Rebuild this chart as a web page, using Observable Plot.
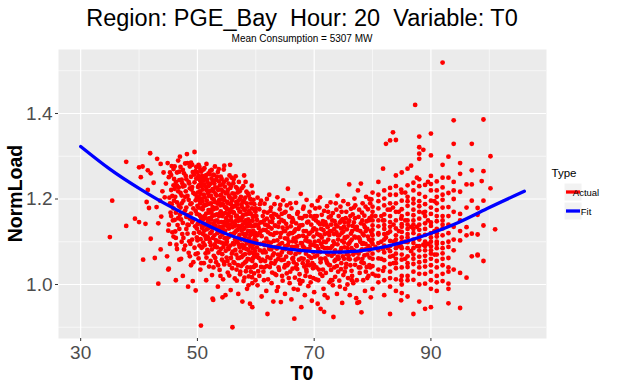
<!DOCTYPE html>
<html>
<head>
<meta charset="utf-8">
<script src="https://cdn.jsdelivr.net/npm/d3@7"></script>
<script src="https://cdn.jsdelivr.net/npm/@observablehq/plot@0.6"></script>
<style>
  html, body { margin: 0; padding: 0; background: #fff; }
  #chart { width: 624px; height: 386px; }
</style>
</head>
<body>
<div id="chart"></div>
<script>
// ---- Titles / labels ----
const titleText = "Region: PGE_Bay  Hour: 20  Variable: T0";
const subtitleText = "Mean Consumption = 5307 MW";
const xLabel = "T0";
const yLabel = "NormLoad";
const legendTitle = "Type";
const legendLabels = ["Actual", "Fit"];

// ---- Ticks ----
const xTicks = [30, 50, 70, 90];
const xMinor = [40, 60, 80, 100];
const yTicks = [1.0, 1.2, 1.4];
const yMinor = [0.9, 1.1, 1.3, 1.5];

// ---- Fit curve ----
const fitT0   = [30, 35, 40, 45, 50, 55, 60, 65, 70, 75, 80, 85, 90, 95, 100, 106];
const fitLoad = [1.323, 1.270, 1.225, 1.185, 1.150, 1.118, 1.097, 1.084, 1.077, 1.076, 1.083, 1.098, 1.120, 1.147, 1.180, 1.218];

// ---- Actual points: flat [T0, NormLoad] pairs ----
const band35 = [
  35.0,1.111, 35.4,1.196, 37.8,1.287, 37.8,1.137, 39.3,1.154, 40.7,1.058, 41.9,1.307, 43.3,1.002,
  42.0,1.107, 45.0,1.035, 42.7,1.062, 43.7,1.082, 40.0,1.274, 40.6,1.276, 40.3,1.251, 41.5,1.267,
  42.0,1.260, 43.1,1.294, 43.7,1.282, 41.5,1.221, 41.3,1.193, 41.7,1.179, 43.0,1.181, 43.6,1.196,
  43.8,1.159, 43.3,1.143, 41.1,1.142, 40.0,1.146, 44.9,1.284, 44.6,1.236, 44.4,1.204, 45.0,1.126,
  44.8,1.066, 44.2,1.262, 42.5,1.238, 44.0,1.218
];
const band45 = [
  45.3,1.262, 45.5,1.221, 45.6,1.188, 45.8,1.150, 45.9,1.112, 46.0,1.247, 46.1,1.276, 46.2,1.205,
  46.3,1.168, 46.4,1.093, 46.5,1.231, 46.6,1.139, 46.7,1.290, 46.8,1.184, 46.9,1.058, 47.0,1.299,
  47.1,1.214, 47.2,1.152, 47.3,1.245, 47.4,1.118, 47.5,1.268, 47.6,1.196, 47.7,1.082, 47.8,1.231,
  47.9,1.173, 48.0,1.254, 48.1,1.130, 48.2,1.305, 48.3,1.207, 48.4,1.162, 48.5,1.240, 48.6,1.101,
  48.7,1.276, 48.8,1.188, 48.9,1.045, 49.0,1.222, 49.1,1.146, 49.2,1.263, 49.3,1.178, 49.4,1.120,
  49.5,1.310, 49.6,1.211, 49.7,1.071, 49.8,1.248, 49.9,1.165, 46.3,1.010, 47.5,1.020, 48.4,0.995,
  49.2,1.008, 45.4,1.168, 46.0,1.196, 46.8,1.227, 47.3,1.190, 48.0,1.218, 48.6,1.236, 49.0,1.190,
  49.4,1.257, 49.7,1.197, 46.5,1.262, 47.9,1.283, 48.9,1.285, 45.9,1.232, 47.0,1.163, 48.3,1.140,
  49.6,1.136, 46.2,1.124, 47.6,1.109, 48.8,1.095, 49.9,1.110, 47.2,1.060, 48.5,1.074, 49.3,1.052,
  46.9,1.264, 48.1,1.180, 49.8,1.275, 45.6,1.277, 45.2,1.203, 47.4,1.237, 48.7,1.154, 49.1,1.228,
  49.7,0.986, 45.1,1.037
];
// ---- Actual points grouped as [T0, [NormLoad...]] ----
const core45 = [
  [45.1,[1.140,1.251]], [45.3,[1.095,1.190]], [45.5,[1.256,1.160]], [45.7,[1.207,1.122]], [45.9,[1.178,1.270]],
  [46.1,[1.151,1.224]], [46.3,[1.240,1.109]], [46.5,[1.192,1.083]], [46.7,[1.218,1.155]], [46.9,[1.130,1.244]],
  [47.1,[1.275,1.180]], [47.3,[1.100,1.208]], [47.5,[1.144,1.229]], [47.7,[1.260,1.168]], [47.9,[1.091,1.205]],
  [48.1,[1.246,1.158]], [48.3,[1.284,1.119]], [48.5,[1.198,1.139]], [48.7,[1.225,1.066]], [48.9,[1.166,1.252]],
  [49.1,[1.105,1.280]], [49.3,[1.214,1.151]], [49.5,[1.239,1.086]], [49.7,[1.172,1.265]], [49.9,[1.203,1.131]]
];
const band50 = [
  [50.0,[1.262,1.184,1.103]], [50.1,[1.228,1.142]], [50.2,[1.205,1.061,1.280]], [50.3,[1.247,1.163]],
  [50.4,[1.121,1.218]], [50.5,[1.190,1.035,1.268]], [50.6,[0.904,1.151,1.236]], [50.7,[1.086,1.201]],
  [50.8,[1.254,1.132]], [50.9,[1.176,1.222]], [51.0,[1.098,1.243,1.158]], [51.1,[1.210,1.050]],
  [51.2,[1.272,1.138]], [51.3,[1.187,1.114]], [51.4,[1.229,1.073]], [51.5,[1.256,1.166,1.010]],
  [51.6,[1.197,1.129]], [51.7,[1.081,1.240]], [51.8,[1.214,1.147]], [51.9,[1.174,1.260]],
  [52.0,[1.106,1.232,1.042]], [52.1,[1.189,1.155]], [52.2,[1.266,1.120]], [52.3,[1.208,1.092]],
  [52.4,[1.248,1.168]], [52.5,[1.134,1.022]], [52.6,[1.223,1.181,0.967]], [52.7,[0.964,1.143,1.257]],
  [52.8,[1.199,1.067]], [52.9,[1.236,1.115]], [53.0,[1.162,1.276,1.088]], [53.1,[1.212,1.138]],
  [53.2,[1.052,1.245]], [53.3,[1.178,1.101]], [53.4,[1.226,1.150]], [53.5,[1.263,1.122,0.995]],
  [53.6,[1.194,1.074]], [53.7,[1.241,1.160]], [53.8,[1.134,1.034]], [53.9,[1.208,1.111]],
  [54.0,[1.171,1.252,1.083]], [54.1,[1.146,1.222]], [54.2,[1.058,1.189]], [54.3,[1.117,1.234,0.970]],
  [54.4,[1.165,1.012]], [54.5,[1.203,1.096,1.269]], [54.6,[1.138,1.047,1.278]], [54.7,[1.181,1.229]],
  [54.8,[1.108,0.975]], [54.9,[1.155,1.214]]
];
const core50 = [
  [50.05,[1.215,1.142,1.073]], [50.15,[1.254,1.180]], [50.25,[1.123,1.232]], [50.35,[1.196,1.091,1.275]],
  [50.45,[1.160,1.243]], [50.55,[1.106,1.212]], [50.65,[1.178,1.264,1.050]], [50.75,[1.137,1.229]],
  [50.85,[1.195,1.088]], [50.95,[1.250,1.151,1.118]], [51.05,[1.183,1.269]], [51.15,[1.126,1.234]],
  [51.25,[1.204,1.092,1.160]], [51.35,[1.250,1.141]], [51.45,[1.107,1.186]], [51.55,[1.221,1.063,1.282]],
  [51.65,[1.154,1.245]], [51.75,[1.188,1.112]], [51.85,[1.132,1.230,1.075]], [51.95,[1.207,1.168]],
  [52.05,[1.258,1.143]], [52.15,[1.099,1.219,1.174]], [52.25,[1.236,1.055]], [52.35,[1.152,1.190]],
  [52.45,[1.124,1.268,1.082]], [52.55,[1.201,1.160]], [52.65,[1.243,1.109]], [52.75,[1.176,1.218,1.040]],
  [52.85,[1.136,1.256]], [52.95,[1.193,1.094]], [53.05,[1.227,1.149,1.062]], [53.15,[1.179,1.104]],
  [53.25,[1.208,1.131]], [53.35,[1.252,1.087,1.164]], [53.45,[1.189,1.120]], [53.55,[1.221,1.045]],
  [53.65,[1.145,1.270,1.100]], [53.75,[1.198,1.076]], [53.85,[1.166,1.232]], [53.95,[1.124,1.185,1.020]],
  [54.05,[1.210,1.098]], [54.15,[1.247,1.135]], [54.25,[1.160,1.071,1.199]], [54.35,[1.129,1.218]],
  [54.45,[1.186,1.088]], [54.55,[1.146,1.240,1.052]], [54.65,[1.108,1.197]], [54.75,[1.167,1.126]],
  [54.85,[1.214,1.079,1.144]], [54.95,[1.095,1.180]]
];
const band55 = [
  [55.0,[1.245,1.142,1.063]], [55.1,[1.193,1.108]], [55.2,[1.221,1.028]], [55.3,[1.162,1.087]],
  [55.4,[1.207,1.131]], [55.5,[1.255,1.046]], [55.6,[1.280,1.175]], [55.7,[1.118,0.987]],
  [55.8,[1.150,1.231]], [55.9,[1.072,1.196]], [56.0,[0.900,1.134,1.213]], [56.1,[1.097,1.169]],
  [56.2,[1.246,1.052]], [56.3,[1.183,1.120]], [56.4,[1.142,1.014]], [56.5,[1.205,1.081]],
  [56.6,[1.160,1.228]], [56.7,[1.103,1.035]], [56.8,[1.188,1.127]], [56.9,[1.062,1.215]],
  [57.0,[1.149,0.978]], [57.1,[1.240,1.093]], [57.2,[1.171,1.116]], [57.3,[1.024,1.200]],
  [57.4,[1.136,1.077]], [57.5,[1.187,1.043]], [57.6,[1.106,1.225]], [57.7,[1.158,0.960]],
  [57.8,[1.068,1.192]], [57.9,[1.129,1.008]], [58.0,[1.255,1.176,1.090]], [58.1,[1.145,1.051]],
  [58.2,[1.203,1.112]], [58.3,[1.031,1.164]], [58.4,[1.083,1.217]], [58.5,[1.136,0.990]],
  [58.6,[1.182,1.060]], [58.7,[1.101,1.152]], [58.8,[1.019,1.208]], [58.9,[1.125,1.073]],
  [59.0,[1.167,0.955]], [59.1,[1.040,1.139]], [59.2,[1.094,1.190]], [59.3,[1.231,1.118]],
  [59.4,[1.055,1.003,0.947]], [59.5,[1.158,1.085]], [59.6,[1.123,1.198]], [59.7,[1.070,1.026]],
  [59.8,[1.173,1.107]], [59.9,[1.046,1.140]]
];
const core55 = [
  [55.05,[1.176,1.100]], [55.15,[1.214,1.136,1.055]], [55.25,[1.149,1.190]], [55.35,[1.083,1.236]],
  [55.45,[1.168,1.112,1.021]], [55.55,[1.203,1.140]], [55.65,[1.091,1.226]], [55.75,[1.158,1.062,1.188]],
  [55.85,[1.117,1.250]], [55.95,[1.180,1.038]], [56.05,[1.145,1.201,1.077]], [56.15,[1.118,1.237]],
  [56.25,[1.168,1.094]], [56.35,[1.050,1.212,1.137]], [56.45,[1.184,1.106]], [56.55,[1.124,1.253]],
  [56.65,[1.070,1.193,1.150]], [56.75,[1.161,1.009]], [56.85,[1.099,1.224]], [56.95,[1.137,1.178,1.045]],
  [57.05,[1.196,1.110]], [57.15,[1.062,1.155]], [57.25,[1.133,1.087,1.218]], [57.35,[1.170,1.030]],
  [57.45,[1.105,1.205]], [57.55,[1.150,1.126,1.064]], [57.65,[1.181,1.093]], [57.75,[1.047,1.140]],
  [57.85,[1.118,1.230,1.163]], [57.95,[1.085,1.197]], [58.05,[1.132,1.016]], [58.15,[1.174,1.103,1.071]],
  [58.25,[1.150,1.240]], [58.35,[1.118,1.054]], [58.45,[1.190,1.096,1.142]], [58.55,[1.040,1.165]],
  [58.65,[1.125,1.213]], [58.75,[1.081,1.137,0.998]], [58.85,[1.172,1.108]], [58.95,[1.059,1.148]],
  [59.05,[1.116,1.200,1.090]], [59.15,[1.165,1.030]], [59.25,[1.136,1.075]], [59.35,[1.101,1.178,1.017]],
  [59.45,[1.149,1.215]], [59.55,[1.062,1.126]], [59.65,[1.095,1.160,1.041]], [59.75,[1.137,1.188]],
  [59.85,[1.078,1.115]], [59.95,[1.170,1.010]]
];
const band60 = [
  [60.0,[1.120,1.044,1.178]], [60.2,[1.087,1.151]], [60.3,[0.998,1.203]], [60.5,[1.132,1.062]],
  [60.6,[1.176,1.020]], [60.8,[1.095,1.145]], [60.9,[1.196,1.041]], [61.0,[1.113,0.972]],
  [61.2,[1.160,1.075]], [61.3,[1.030,1.128]], [61.5,[1.189,1.092]], [61.6,[1.055,1.140]],
  [61.8,[1.107,0.985]], [62.0,[0.931,1.168,1.064]], [62.1,[1.122,1.012]], [62.3,[1.083,1.210]],
  [62.4,[1.147,1.041]], [62.6,[1.098,1.180]], [62.7,[1.003,1.131]], [62.9,[1.068,1.155]],
  [63.0,[1.116,0.960]], [63.2,[1.188,1.049]], [63.3,[1.087,1.138]], [63.5,[1.022,1.163]],
  [63.7,[1.204,1.103]], [63.8,[1.070,0.994]], [64.0,[1.145,1.034]], [64.1,[1.094,1.176]],
  [64.3,[0.959,1.120]], [64.4,[1.057,1.151]], [64.6,[1.133,1.009]], [64.7,[1.082,1.197]],
  [64.9,[1.168,1.040]], [65.0,[1.108,0.978]], [65.2,[1.065,1.142]], [65.3,[1.185,1.026]],
  [65.5,[1.224,1.092]], [65.6,[1.117,1.050]], [65.8,[1.003,1.158]], [66.0,[1.074,1.136]],
  [66.1,[1.178,0.965]], [66.3,[1.101,1.037]], [66.4,[1.150,1.062]], [66.6,[0.920,1.124]],
  [66.7,[1.016,1.088]], [66.9,[1.191,1.143]], [67.0,[1.047,1.110]], [67.2,[1.169,0.988]],
  [67.3,[1.080,1.130]], [67.5,[1.024,1.156]], [67.7,[1.212,1.097]], [67.8,[1.061,0.947]],
  [68.0,[1.139,1.008]], [68.1,[1.114,1.177]], [68.3,[1.042,1.086]], [68.4,[1.160,0.975]],
  [68.6,[1.072,1.125]], [68.7,[1.198,1.030]], [68.9,[1.101,1.054]], [69.0,[1.147,0.996]],
  [69.2,[1.084,1.170]], [69.3,[1.018,1.121]], [69.5,[1.062,1.140]], [69.6,[1.185,0.962]],
  [69.8,[1.093,1.038]], [69.9,[1.154,1.112]]
];
const core60 = [
  [60.1,[1.102,1.160,1.065]], [60.4,[1.137,1.031]], [60.7,[1.080,1.188,1.121]], [61.1,[1.146,1.058]],
  [61.4,[1.098,1.170,1.010]], [61.7,[1.127,1.075]], [61.9,[1.154,1.043,1.200]], [62.2,[1.090,1.135]],
  [62.5,[1.061,1.118,1.172]], [62.8,[1.028,1.146]], [63.1,[1.102,1.073,1.165]], [63.4,[1.137,1.055]],
  [63.6,[1.084,1.121,0.985]], [63.9,[1.158,1.040]], [64.2,[1.068,1.111,1.186]], [64.5,[1.097,1.020]],
  [64.8,[1.125,1.058,1.148]], [65.1,[1.083,1.170]], [65.4,[1.045,1.133,1.107]], [65.7,[1.075,1.160]],
  [65.9,[1.120,1.030,1.190]], [66.2,[1.088,1.146]], [66.5,[1.052,1.108,0.990]], [66.8,[1.129,1.071]],
  [67.1,[1.090,1.165,1.036]], [67.4,[1.113,1.058]], [67.6,[1.138,1.080,1.002]], [67.9,[1.097,1.155]],
  [68.2,[1.060,1.125,1.182]], [68.5,[1.103,1.020]], [68.8,[1.082,1.145,1.045]], [69.1,[1.118,1.066]],
  [69.4,[1.092,1.160,1.005]], [69.7,[1.125,1.050]]
];
const band70 = [
  [70.0,[1.131,1.045,0.982]], [70.2,[1.178,1.090]], [70.3,[1.012,1.150]], [70.5,[1.068,1.118]],
  [70.6,[1.196,0.955]], [70.8,[1.102,1.035]], [71.0,[1.204,1.141,1.076]], [71.1,[0.943,1.052]],
  [71.3,[1.163,1.110]], [71.4,[1.020,1.088]], [71.6,[1.127,0.990]], [71.7,[0.936,1.172]],
  [71.9,[1.061,1.146]], [72.0,[1.099,1.027]], [72.2,[1.183,1.073]], [72.3,[1.134,0.969]],
  [72.5,[1.046,1.157]], [72.6,[1.116,1.005]], [72.8,[1.085,1.192]], [72.9,[1.140,1.034]],
  [73.0,[1.067,1.125]], [73.2,[0.998,1.167]], [73.3,[0.924,1.101]], [73.5,[1.148,1.055]],
  [73.6,[1.080,1.018]], [73.8,[1.175,1.122]], [73.9,[1.043,0.978]], [74.0,[1.208,1.094,1.136]],
  [74.2,[1.060,1.160]], [74.3,[1.115,1.009]], [74.5,[1.182,1.078]], [74.6,[1.036,1.131]],
  [74.8,[1.102,0.957]], [74.9,[1.153,1.066]], [75.0,[1.124,1.022,1.195]], [75.2,[1.087,1.145]],
  [75.3,[0.990,1.108]], [75.5,[1.170,1.048]], [75.6,[1.129,1.071]], [75.8,[1.015,1.188]],
  [76.0,[1.234,1.096,1.150]], [76.1,[1.059,0.975]], [76.3,[1.119,1.177]], [76.4,[1.032,1.085]],
  [76.6,[1.164,1.137]], [76.7,[1.003,1.070]], [76.9,[1.112,1.201]], [77.0,[1.046,1.155]],
  [77.2,[1.092,0.968]], [77.4,[0.957,1.128]], [77.5,[1.220,1.061]], [77.7,[0.959,1.175]],
  [77.8,[1.106,1.027]], [78.0,[1.236,1.143,1.079]], [78.1,[0.935,1.052]], [78.3,[1.119,1.190]],
  [78.4,[1.010,1.097]], [78.6,[1.161,1.068]], [78.7,[1.134,0.985]], [78.9,[1.083,1.205]],
  [79.0,[1.041,1.148]], [79.2,[1.112,1.176]], [79.3,[1.020,1.090]], [79.5,[1.155,1.063]],
  [79.7,[0.970,1.125]], [79.8,[1.199,1.100]]
];
const core70 = [
  [70.1,[1.100,1.065,1.160]], [70.4,[1.128,1.040]], [70.7,[1.083,1.145,1.010]], [70.9,[1.116,1.180]],
  [71.2,[1.060,1.095,1.130]], [71.5,[1.148,1.035]], [71.8,[1.085,1.118,0.975]], [72.1,[1.140,1.055]],
  [72.4,[1.070,1.105,1.170]], [72.7,[1.125,1.045]], [73.1,[1.090,1.150,1.010]], [73.4,[1.118,1.072]],
  [73.7,[1.058,1.140,1.190]], [74.1,[1.105,1.030]], [74.4,[1.075,1.145,0.995]], [74.7,[1.120,1.170]],
  [75.1,[1.060,1.098,1.135]], [75.4,[1.155,1.040]], [75.7,[1.085,1.112,1.000]], [75.9,[1.138,1.068]],
  [76.2,[1.101,1.160,1.045]], [76.5,[1.125,1.020]], [76.8,[1.080,1.145,1.180]], [77.1,[1.110,1.058]],
  [77.3,[1.135,1.090,1.010]], [77.6,[1.158,1.072]], [77.9,[1.100,1.125,1.040]], [78.2,[1.168,1.082]],
  [78.5,[1.115,1.050,1.140]], [78.8,[1.095,1.182]], [79.1,[1.130,1.070,1.015]], [79.4,[1.105,1.150]],
  [79.6,[1.085,1.190,1.040]], [79.9,[1.118,1.160]]
];
const extra60 = [
  [60.25,[1.070,1.115,1.140]], [60.85,[1.055,1.125]], [61.45,[1.080,1.150,1.040]], [62.05,[1.100,1.138]],
  [62.65,[1.050,1.082,1.160]], [63.25,[1.120,1.025]], [63.85,[1.090,1.135,1.060]], [64.45,[1.075,1.165]],
  [65.05,[1.045,1.125,1.090]], [65.65,[1.100,1.015]], [66.25,[1.060,1.120,1.155]], [66.85,[1.040,1.100]],
  [67.45,[1.075,1.135,1.010]], [68.05,[1.090,1.050]], [68.65,[1.110,1.160,1.035]], [69.25,[1.045,1.100]],
  [69.85,[1.075,1.130,1.015]], [70.45,[1.090,1.160]], [71.05,[1.025,1.115,1.060]], [71.65,[1.100,1.140]],
  [72.25,[1.050,1.085,1.120]], [72.85,[1.010,1.160]], [73.45,[1.095,1.130,1.040]], [74.05,[1.065,1.115]],
  [74.65,[1.085,1.050,1.150]], [75.25,[1.110,1.030]], [75.85,[1.060,1.095,1.145]], [76.45,[1.105,1.010]],
  [77.05,[1.075,1.130,1.185]], [77.65,[1.040,1.110]], [78.25,[1.060,1.095,1.150]], [78.85,[1.030,1.125]],
  [79.45,[1.080,1.200,1.045]]
];
const band80 = [
  [80.0,[1.182,1.105,1.043,1.150,0.990,1.072,1.128,1.215]], [80.5,[1.088,1.160,1.021]],
  [81.0,[1.240,1.136,1.061,1.097,1.005,1.178,1.117]], [81.8,[1.271,1.150,1.083,1.032]],
  [82.0,[1.201,1.118,1.057,0.975,1.164,1.091,1.139]], [82.3,[1.329,1.110]],
  [83.0,[1.337,1.226,1.146,1.078,1.015,0.931,1.190,1.102,1.124,1.048]], [83.5,[1.356,1.180,1.067]],
  [84.0,[1.338,1.255,1.170,1.096,1.038,0.985,1.131,1.210,1.072,1.115]], [84.9,[0.963,1.154,1.089,1.222,1.010]],
  [85.0,[1.196,1.123,1.058,1.141,1.262,1.000,1.085,1.176]],
  [86.0,[1.271,1.205,1.150,1.099,1.041,0.972,1.118,1.184,1.066,1.232]], [86.6,[1.278,1.135,1.078]],
  [87.0,[1.190,1.120,1.048,0.931,1.162,1.097,1.011,1.238,1.140,1.070]], [87.3,[1.420]],
  [88.0,[1.346,1.321,1.306,1.294,1.246,1.183,1.128,1.080,1.025,0.960,1.154,1.105,1.212,1.052]],
  [88.7,[1.315,1.168,1.093]], [89.0,[0.943,1.233,1.143,1.067,1.002,1.188,1.116,1.042]],
  [90.0,[1.353,1.302,1.254,1.196,1.137,1.089,1.030,0.947,1.165,1.110,1.220,1.060,0.990]]
];
const core80 = [
  [80.0,[1.095,1.138,1.060,1.170]], [81.0,[1.080,1.150,1.120,1.035,1.195]], [82.0,[1.075,1.130,1.105,1.040,1.185,1.220]],
  [83.0,[1.090,1.160,1.065,1.135,0.995,1.210]], [84.0,[1.085,1.150,1.105,1.060,1.190,1.012]],
  [85.0,[1.100,1.160,1.070,1.135,1.040,1.215,0.980]], [86.0,[1.110,1.165,1.085,1.130,1.020,1.195,1.050]],
  [87.0,[1.105,1.150,1.085,1.130,1.200,1.030,1.175]], [88.0,[1.115,1.140,1.090,1.170,1.065,1.195,1.000]],
  [89.0,[1.100,1.130,1.160,1.080,1.205,1.025,1.055]], [90.0,[1.120,1.145,1.080,1.180,1.045,1.100,1.010]],
  [91.0,[1.095,1.160,1.120,1.040,1.190,1.005]], [92.0,[1.085,1.140,1.180,1.060,1.025,1.210]],
  [81.5,[1.100,1.160,1.060]], [82.6,[1.120,1.085,1.175]], [83.6,[1.140,1.100,1.050]], [84.5,[1.125,1.090,1.170]],
  [85.6,[1.150,1.100,1.060,1.215]], [87.6,[1.135,1.090,1.250]], [89.5,[1.150,1.095,1.240]], [90.6,[1.125,1.070,1.195]]
];
const extra80 = [
  [80.0,[1.115,1.025]], [81.0,[1.020,1.210]], [82.0,[1.150,1.010]], [83.0,[1.175,1.030]], [84.0,[1.230,1.050]],
  [85.0,[1.110,1.020]], [86.0,[1.140,1.010]], [87.0,[1.220,1.060]], [88.0,[1.230,1.040]], [89.0,[1.170,1.090]],
  [90.0,[1.235,1.072]], [91.0,[1.100,1.220]], [92.0,[1.150,1.250]], [93.0,[1.100,1.040]]
];
const band90 = [
  [91.0,[1.241,1.174,1.112,1.055,0.985,1.148,1.085,1.205,1.020,1.130,1.070]],
  [92.0,[1.519,1.280,1.198,1.131,1.073,1.008,1.160,1.097,1.227,1.045,1.115]],
  [93.0,[1.299,1.250,1.214,1.181,1.140,1.120,1.062,1.030,1.002,0.990,0.956,1.160,1.088]],
  [93.9,[1.384,1.329,1.240,1.220,1.170,1.105,1.035,1.200,1.135,1.080]],
  [95.0,[1.284,1.259,1.217,1.165,1.150,1.103,1.027,0.945,1.125]],
  [96.1,[1.234,1.134,1.115,1.016,1.180]], [97.0,[1.329,1.267,1.234,1.196,1.119,1.066]],
  [98.0,[1.179,1.163,1.117,1.068,1.070]], [98.7,[1.242]], [99.0,[1.386,1.265,1.196,1.138,1.055]],
  [100.2,[1.300,1.225]], [101.0,[1.129]]
];

// ---- Build tables ----
const actual = [];
for (const flat of [band35, band45]) {
  for (let i = 0; i < flat.length; i += 2) actual.push({T0: flat[i], NormLoad: flat[i + 1]});
}
for (const grouped of [core45, band50, core50, band55, core55, band60, core60, extra60,
                       band70, core70, band80, core80, extra80, band90]) {
  for (const [t, loads] of grouped) for (const v of loads) actual.push({T0: t, NormLoad: v});
}
const fit = fitT0.map((t, i) => ({T0: t, NormLoad: fitLoad[i]}));

const FONT = "'Liberation Sans', Arial, sans-serif";
const W = 624, H = 386;
const mL = 58, mR = 78, mT = 49, mB = 48;

const chart = Plot.plot({
  width: W, height: H,
  marginLeft: mL, marginRight: mR, marginTop: mT, marginBottom: mB,
  style: {background: "#ffffff", fontFamily: FONT, overflow: "visible"},
  x: {domain: [26.2, 109.8], label: null},
  y: {domain: [0.8737, 1.5497], label: null},
  marks: [
    Plot.frame({fill: "#EBEBEB", stroke: null}),
    Plot.gridX(xMinor, {stroke: "#ffffff", strokeOpacity: 1, strokeWidth: 0.6}),
    Plot.gridY(yMinor, {stroke: "#ffffff", strokeOpacity: 1, strokeWidth: 0.6}),
    Plot.gridX(xTicks, {stroke: "#ffffff", strokeOpacity: 1, strokeWidth: 1.2}),
    Plot.gridY(yTicks, {stroke: "#ffffff", strokeOpacity: 1, strokeWidth: 1.2}),
    Plot.dot(actual, {x: "T0", y: "NormLoad", r: 2.4, fill: "#FF0000", stroke: null}),
    Plot.line(fit, {x: "T0", y: "NormLoad", stroke: "#0000FF", strokeWidth: 3.3, curve: "natural"}),
    Plot.axisX(xTicks, {tickSize: 3, tickPadding: 4, fontSize: 19, stroke: "#333333", color: "#4D4D4D", label: null, tickFormat: d => String(d)}),
    Plot.axisY(yTicks, {tickSize: 3, tickPadding: 3, fontSize: 19, stroke: "#333333", color: "#4D4D4D", label: null, tickFormat: d => d.toFixed(1)})
  ]
});

document.getElementById("chart").appendChild(chart);

// ---- Text + legend (layout only) ----
const svg = d3.select(chart);
const cx = mL + (W - mL - mR) / 2;
svg.append("text").attr("x", cx).attr("y", 26).attr("text-anchor", "middle")
  .attr("font-family", FONT).attr("font-size", 23.5).attr("fill", "#000").text(titleText);
svg.append("text").attr("x", cx).attr("y", 42).attr("text-anchor", "middle")
  .attr("font-family", FONT).attr("font-size", 10).attr("fill", "#000").text(subtitleText);
svg.append("text").attr("x", cx).attr("y", 380).attr("text-anchor", "middle")
  .attr("font-family", FONT).attr("font-size", 19.5).attr("font-weight", "bold").attr("fill", "#000").text(xLabel);
svg.append("text").attr("transform", `translate(22,${mT + (H - mT - mB) / 2}) rotate(-90)`).attr("text-anchor", "middle")
  .attr("font-family", FONT).attr("font-size", 19.5).attr("font-weight", "bold").attr("fill", "#000").text(yLabel);

const legend = svg.append("g");
legend.append("text").attr("x", 564).attr("y", 177).attr("font-family", FONT).attr("font-size", 11.5)
  .attr("fill", "#000").text(legendTitle);
const legendColors = ["#FF0000", "#0000FF"];
legendLabels.forEach((lab, i) => {
  const yy = 192 + i * 19;
  legend.append("rect").attr("x", 564).attr("y", yy - 9).attr("width", 18).attr("height", 18)
    .attr("fill", "#F2F2F2").attr("stroke", "#ffffff");
  legend.append("line").attr("x1", 566).attr("x2", 580).attr("y1", yy).attr("y2", yy)
    .attr("stroke", legendColors[i]).attr("stroke-width", 3.3);
  legend.append("text").attr("x", 586).attr("y", yy + 3.5).attr("font-family", FONT).attr("font-size", 9.5)
    .attr("fill", "#000").text(lab);
});
</script>
</body>
</html>
